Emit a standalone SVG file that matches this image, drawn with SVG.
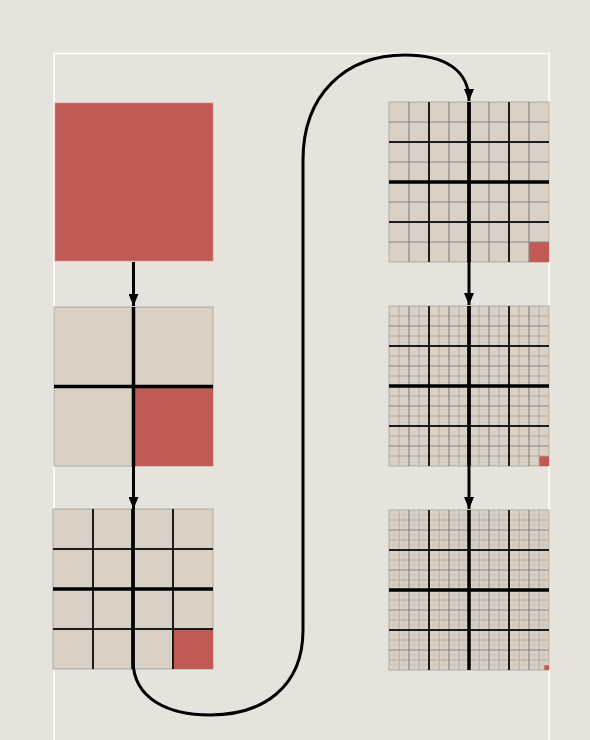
<svg xmlns="http://www.w3.org/2000/svg" width="590" height="740" viewBox="0 0 590 740">
<defs>
<style>
.bg{fill:#e6e3dc}
.frame{fill:none;stroke:#ffffff;stroke-width:1.5}
.sq{fill:#d9d1c6;stroke:#a39d96;stroke-width:0.8}
.red{fill:#c05a57}
.l1{stroke:#000;stroke-width:3.5;fill:none}
.l2{stroke:#1c1c1c;stroke-width:2;fill:none}
.l3{stroke:#8d867e;stroke-width:1.2;fill:none}
.l4{stroke:#b1a89e;stroke-width:1;fill:none}
.l5{stroke:#c8bfb4;stroke-width:0.7;fill:none}
.conn{stroke:#000;stroke-width:3;fill:none}
</style>
<marker id="arr" markerWidth="13" markerHeight="10" refX="12" refY="5" orient="auto" markerUnits="userSpaceOnUse">
<path d="M0,0 L12,5 L0,10 z" fill="#000"/>
</marker>
</defs>
<rect class="bg" x="0" y="0" width="590" height="740"/>
<rect class="frame" x="54" y="53.5" width="495" height="720"/>

<g id="node1">
<rect class="red" x="55" y="103" width="158" height="158" stroke="#d98c86" stroke-width="0.6"/>
</g>

<g id="node2">
<rect class="sq" x="54" y="307" width="159" height="159"/>
<rect class="red" x="133.5" y="386.5" width="79.5" height="79.5"/>
<path class="l1" d="M54,386.5 H213 M133.5,307 V466"/>
</g>

<g id="node3">
<rect class="sq" x="53" y="509" width="160" height="160" stroke="none"/>
<rect class="red" x="173" y="629" width="40" height="40"/>
<path class="l2" d="M93,509 V669 M173,509 V669 M53,549 H213 M53,629 H213"/>
<path class="l1" d="M53,589 H213 M133,509 V669"/>
</g>

<g id="node4">
<rect class="sq" x="389" y="102" width="160" height="160" stroke="none"/>
<rect class="red" x="529" y="242" width="20" height="20"/>
<path class="l3" d="M409,102 V262 M449,102 V262 M489,102 V262 M529,102 V262 M389,122 H549 M389,162 H549 M389,202 H549 M389,242 H549"/>
<path class="l2" d="M429,102 V262 M509,102 V262 M389,142 H549 M389,222 H549"/>
<path class="l1" d="M469,102 V262 M389,182 H549"/>
</g>

<g id="node5">
<rect class="sq" x="389" y="306" width="160" height="160" stroke="none"/>
<rect class="red" x="539" y="456" width="10" height="10"/>
<path class="l4" d="M399,306 V466 M419,306 V466 M439,306 V466 M459,306 V466 M479,306 V466 M499,306 V466 M519,306 V466 M539,306 V466 M389,316 H549 M389,336 H549 M389,356 H549 M389,376 H549 M389,396 H549 M389,416 H549 M389,436 H549 M389,456 H549"/>
<path class="l3" d="M409,306 V466 M449,306 V466 M489,306 V466 M529,306 V466 M389,326 H549 M389,366 H549 M389,406 H549 M389,446 H549"/>
<path class="l2" d="M429,306 V466 M509,306 V466 M389,346 H549 M389,426 H549"/>
<path class="l1" d="M469,306 V466 M389,386 H549"/>
</g>

<g id="node6">
<rect class="sq" x="389" y="510" width="160" height="160" stroke="none"/>
<rect class="red" x="544" y="665" width="5" height="5"/>
<path class="l5" d="M394,510 V670 M404,510 V670 M414,510 V670 M424,510 V670 M434,510 V670 M444,510 V670 M454,510 V670 M464,510 V670 M474,510 V670 M484,510 V670 M494,510 V670 M504,510 V670 M514,510 V670 M524,510 V670 M534,510 V670 M544,510 V670 M389,515 H549 M389,525 H549 M389,535 H549 M389,545 H549 M389,555 H549 M389,565 H549 M389,575 H549 M389,585 H549 M389,595 H549 M389,605 H549 M389,615 H549 M389,625 H549 M389,635 H549 M389,645 H549 M389,655 H549 M389,665 H549"/>
<path class="l4" d="M399,510 V670 M419,510 V670 M439,510 V670 M459,510 V670 M479,510 V670 M499,510 V670 M519,510 V670 M539,510 V670 M389,520 H549 M389,540 H549 M389,560 H549 M389,580 H549 M389,600 H549 M389,620 H549 M389,640 H549 M389,660 H549"/>
<path class="l3" d="M409,510 V670 M449,510 V670 M489,510 V670 M529,510 V670 M389,530 H549 M389,570 H549 M389,610 H549 M389,650 H549"/>
<path class="l2" d="M429,510 V670 M509,510 V670 M389,550 H549 M389,630 H549"/>
<path class="l1" d="M469,510 V670 M389,590 H549"/>
</g>

<g id="connectors">
<path class="conn" d="M133.5,262 V306" marker-end="url(#arr)"/>
<path class="conn" d="M133.5,307 V509" marker-end="url(#arr)"/>
<path class="conn" d="M133,510 V660 C133,700 170,715 210,715 C262,715 303,688 303,630 V160 C303,95 345,55 405,55 C445,55 469,70 469,101" marker-end="url(#arr)"/>
<path class="conn" d="M469,102 V305" marker-end="url(#arr)"/>
<path class="conn" d="M469,306 V509" marker-end="url(#arr)"/>
</g>
</svg>
